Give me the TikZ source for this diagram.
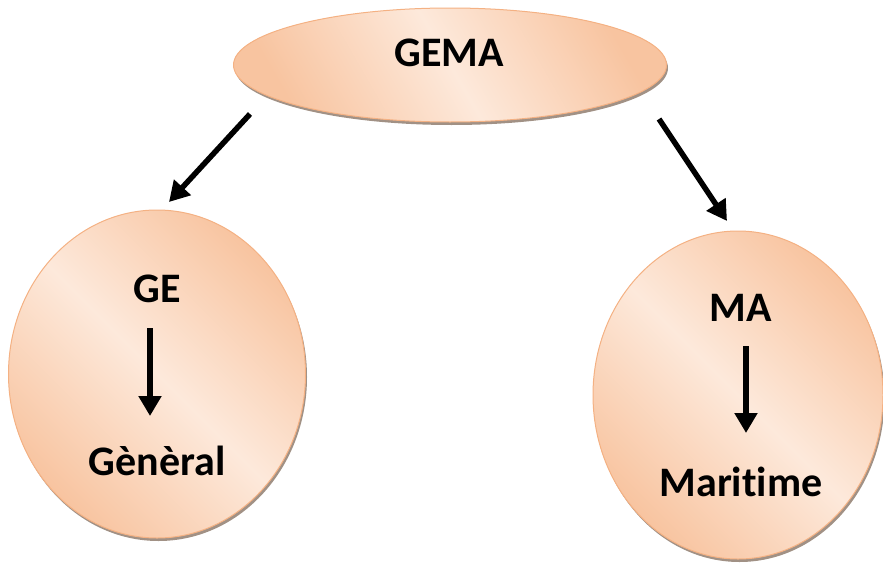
\documentclass[tikz,border=0pt]{standalone}
\usepackage{fontspec}
\setmainfont[Ligatures={NoCommon,NoRequired,NoContextual}]{Carlito}
\usetikzlibrary{arrows.meta,shadows,shapes.geometric}
\definecolor{peachdark}{HTML}{F8C4A0}
\definecolor{peachlight}{HTML}{FDE9DB}
\definecolor{peachedge}{HTML}{F4B183}
\tikzset{
  blob/.style={ellipse, draw=peachedge, line width=1pt,
    left color=peachdark, right color=peachdark, middle color=peachlight,
    shading angle=#1,
    drop shadow={shadow xshift=1.5pt, shadow yshift=-3pt, fill=black!60!peachedge, opacity=0.6}},
  lbl/.style={font=\bfseries\fontsize{42pt}{46pt}\selectfont, text=black, inner sep=0pt},
  bigarrow/.style={line width=5.5pt, -{Triangle[length=20pt,width=22pt]}},
}
\begin{document}
\begin{tikzpicture}[x=1pt,y=-1pt]
\useasboundingbox (0,0) rectangle (883,570);
\node[blob=-60, minimum width=433pt, minimum height=114pt, inner sep=0pt] (gema) at (450,65) {};
\node[blob=-45, minimum width=297pt, minimum height=328pt, inner sep=0pt] (left) at (157,374) {};
\node[blob=-45, minimum width=290pt, minimum height=328pt, inner sep=0pt] (right) at (738,395) {};
\node[lbl] (tgema) at (449,53) {GEMA};
\node[lbl] (tge) at (157,289) {GE};
\node[lbl] (tgen) at (157,461) {Gènèral};
\node[lbl] (tma) at (741,308) {MA};
\node[lbl] (tmar) at (741,482) {Maritime};
\coordinate (a1s) at (250,114);
\coordinate (a1e) at (169,202);
\coordinate (a2s) at (659,119);
\coordinate (a2e) at (727,221);
\coordinate (a3s) at (150,328);
\coordinate (a3e) at (150,416);
\coordinate (a4s) at (746,346);
\coordinate (a4e) at (746,433);
\draw[bigarrow] (a1s) -- (a1e);
\draw[bigarrow] (a2s) -- (a2e);
\draw[bigarrow] (a3s) -- (a3e);
\draw[bigarrow] (a4s) -- (a4e);
\end{tikzpicture}
\end{document}
